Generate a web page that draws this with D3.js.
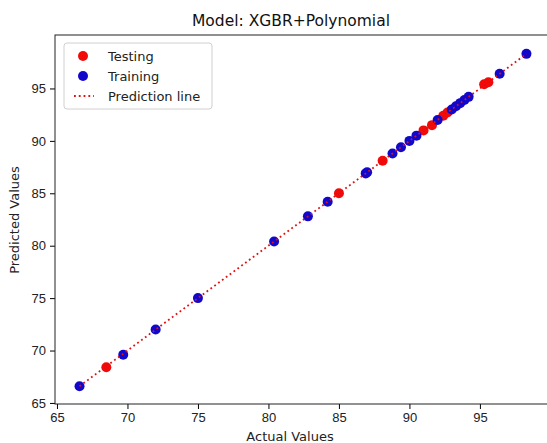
<!DOCTYPE html>
<html>
<head>
<meta charset="utf-8">
<script src="https://cdn.jsdelivr.net/npm/d3@7"></script>
<style>
  body { margin: 0; background: #fff; }
  svg { display: block; font-family: "DejaVu Sans", sans-serif; }
</style>
</head>
<body>
<div id="chart"></div>
<script>
// values
const testActual = [68.5, 85.0, 88.1, 91.0, 91.6, 92.4, 92.7, 95.3, 95.6];
const testPredicted = [68.4, 85.0, 88.1, 91.0, 91.5, 92.4, 92.7, 95.4, 95.6];
const trainActual = [66.6, 69.7, 72.0, 75.0, 80.4, 82.8, 84.2, 86.9, 87.0, 88.8, 89.4, 90.0, 90.5, 92.0, 93.0, 93.3, 93.6, 93.9, 94.2, 96.4, 98.3];
const trainPredicted = [66.6, 69.6, 72.0, 75.0, 80.4, 82.8, 84.2, 86.9, 87.0, 88.8, 89.4, 90.0, 90.5, 92.0, 93.0, 93.3, 93.6, 93.9, 94.2, 96.4, 98.3];
const xTicks = [65, 70, 75, 80, 85, 90, 95];
const yTicks = [65, 70, 75, 80, 85, 90, 95];
const legendLabels = ["Testing", "Training", "Prediction line"];

const width = 547, height = 443;
const plotL = 55, plotT = 35, plotR = 549, plotB = 404;

const svg = d3.select("#chart").append("svg")
    .attr("width", width)
    .attr("height", height);

const x = d3.scaleLinear().domain([64.86, 99.9]).range([plotL, plotR]);
const y = d3.scaleLinear().domain([64.9, 100.1]).range([plotB, plotT]);

// axes
svg.append("g")
    .attr("transform", `translate(0,${plotB})`)
    .call(d3.axisBottom(x).tickValues(xTicks).tickSize(5).tickPadding(4).tickFormat(d3.format("d")))
    .call(g => g.select(".domain").remove())
    .call(g => g.selectAll("text").attr("font-size", 13).attr("fill", "#222"));

svg.append("g")
    .attr("transform", `translate(${plotL},0)`)
    .call(d3.axisLeft(y).tickValues(yTicks).tickSize(5).tickPadding(4).tickFormat(d3.format("d")))
    .call(g => g.select(".domain").remove())
    .call(g => g.selectAll("text").attr("font-size", 13).attr("fill", "#222"));

// frame
svg.append("rect")
    .attr("x", plotL).attr("y", plotT)
    .attr("width", plotR - plotL).attr("height", plotB - plotT)
    .attr("fill", "none").attr("stroke", "#222").attr("stroke-width", 1);

// points: testing first, then training
const testing = testActual.map((a, i) => ({a, p: testPredicted[i]}));
const training = trainActual.map((a, i) => ({a, p: trainPredicted[i]}));

svg.append("g").selectAll("circle")
    .data(testing).enter().append("circle")
    .attr("cx", d => x(d.a)).attr("cy", d => y(d.p))
    .attr("r", 5).attr("fill", "#f20a0a");

svg.append("g").selectAll("circle")
    .data(training).enter().append("circle")
    .attr("cx", d => x(d.a)).attr("cy", d => y(d.p))
    .attr("r", 5).attr("fill", "#1208cc");

// prediction line from min to max
const all = testActual.concat(trainActual);
const lo = d3.min(all), hi = d3.max(all);
svg.append("line")
    .attr("x1", x(lo)).attr("y1", y(lo))
    .attr("x2", x(hi)).attr("y2", y(hi))
    .attr("stroke", "#e01010").attr("stroke-width", 1.8)
    .attr("stroke-dasharray", "1.8,3");

// titles
svg.append("text")
    .attr("x", 291).attr("y", 26)
    .attr("text-anchor", "middle").attr("font-size", 15.5).attr("fill", "#111")
    .text("Model: XGBR+Polynomial");

svg.append("text")
    .attr("x", 290).attr("y", 441)
    .attr("text-anchor", "middle").attr("font-size", 13).attr("fill", "#222")
    .text("Actual Values");

svg.append("text")
    .attr("transform", `translate(19,220) rotate(-90)`)
    .attr("text-anchor", "middle").attr("font-size", 13).attr("fill", "#222")
    .text("Predicted Values");

// legend
const legend = svg.append("g");
legend.append("rect")
    .attr("x", 64).attr("y", 43).attr("width", 148).attr("height", 66)
    .attr("rx", 3).attr("fill", "#fff").attr("fill-opacity", 0.8)
    .attr("stroke", "#d0d0d0");

const rows = [56, 76, 96];
legend.append("circle").attr("cx", 83).attr("cy", rows[0]).attr("r", 5).attr("fill", "#f20a0a");
legend.append("circle").attr("cx", 83).attr("cy", rows[1]).attr("r", 5).attr("fill", "#1208cc");
legend.append("line")
    .attr("x1", 74).attr("x2", 94).attr("y1", rows[2]).attr("y2", rows[2])
    .attr("stroke", "#e01010").attr("stroke-width", 1.8).attr("stroke-dasharray", "1.8,3");

legend.selectAll("text.lbl")
    .data(legendLabels).enter().append("text")
    .attr("class", "lbl")
    .attr("x", 108).attr("y", (d, i) => rows[i] + 4.5)
    .attr("font-size", 13).attr("fill", "#222")
    .text(d => d);
</script>
</body>
</html>
